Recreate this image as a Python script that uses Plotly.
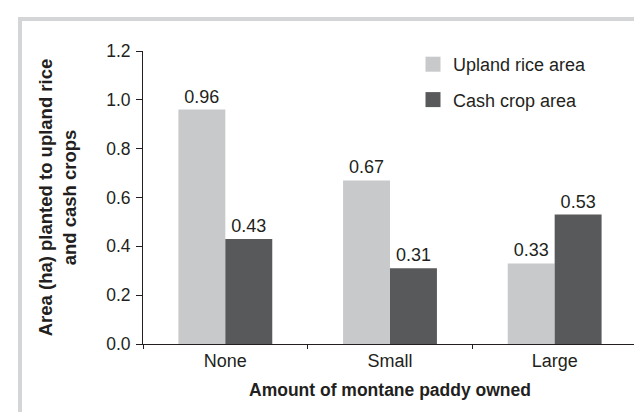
import plotly.graph_objects as go

categories = ["None", "Small", "Large"]
upland_rice = [0.96, 0.67, 0.33]
cash_crop = [0.43, 0.31, 0.53]
y_ticks = [0.0, 0.2, 0.4, 0.6, 0.8, 1.0, 1.2]
series_names = ["Upland rice area", "Cash crop area"]
series_colors = ["#c8c9cb", "#58595b"]

W, H = 642, 412
L, R, T, B = 135, 13, 43, 76
pw, ph = W - L - R, H - T - B

def px(x):
    return (x - L) / pw

def py(y):
    return (H - B - y) / ph

font = "Liberation Sans, Arial, sans-serif"
txt = "#231f20"

fig = go.Figure()
for name, vals, col in zip(series_names, [upland_rice, cash_crop], series_colors):
    fig.add_bar(x=categories, y=vals, name=name, showlegend=False,
                marker=dict(color=col, line=dict(width=0)),
                text=[f"{v:.2f}" for v in vals], textposition="outside",
                textfont=dict(size=18, color=txt, family=font), cliponaxis=False)
# legend entries (square swatches)
for i, (name, col) in enumerate(zip(series_names, series_colors)):
    fig.add_scatter(x=[None], y=[None], mode="markers", name=name,
                    marker=dict(symbol="square", size=15, color=col),
                    legendgroup=f"g{i}", showlegend=True)

fig.update_layout(
    width=W, height=H,
    margin=dict(l=L, r=R, t=T, b=B, pad=0),
    paper_bgcolor="white", plot_bgcolor="white",
    font=dict(family=font, size=18, color=txt),
    barmode="group", bargap=0.43, bargroupgap=0,
    showlegend=True,
    legend=dict(x=px(405), y=py(38), xanchor="left", yanchor="top",
                font=dict(size=18, color=txt), tracegroupgap=9,
                itemsizing="trace",
                bgcolor="rgba(0,0,0,0)"),
    xaxis=dict(showline=True, linecolor="#231f20", linewidth=1,
               ticks="outside", tickson="boundaries", ticklen=4, tickcolor="#231f20",
               tickfont=dict(size=18, color=txt),
               title=dict(text="<b>Amount of montane paddy owned</b>",
                          font=dict(size=17.5, color=txt), standoff=14),
               showgrid=False, zeroline=False),
    yaxis=dict(range=[0, 1.2], tickvals=y_ticks, ticktext=[f"{v:.1f}" for v in y_ticks],
               showline=True, linecolor="#231f20", linewidth=1,
               ticks="outside", ticklen=6, tickcolor="#231f20",
               ticklabelstandoff=2,
               tickfont=dict(size=17.5, color=txt),
               title=dict(text="<b>Area (ha) planted to upland rice<br>and cash crops</b>",
                          font=dict(size=18.5, color=txt), standoff=24),
               showgrid=False, zeroline=False),
    shapes=[dict(type="rect", xref="paper", yref="paper",
                 x0=px(12), x1=px(720), y0=py(500), y1=py(11),
                 line=dict(color="#d4d5d6", width=4), layer="below")],
)

fig.write_html("out.html")
